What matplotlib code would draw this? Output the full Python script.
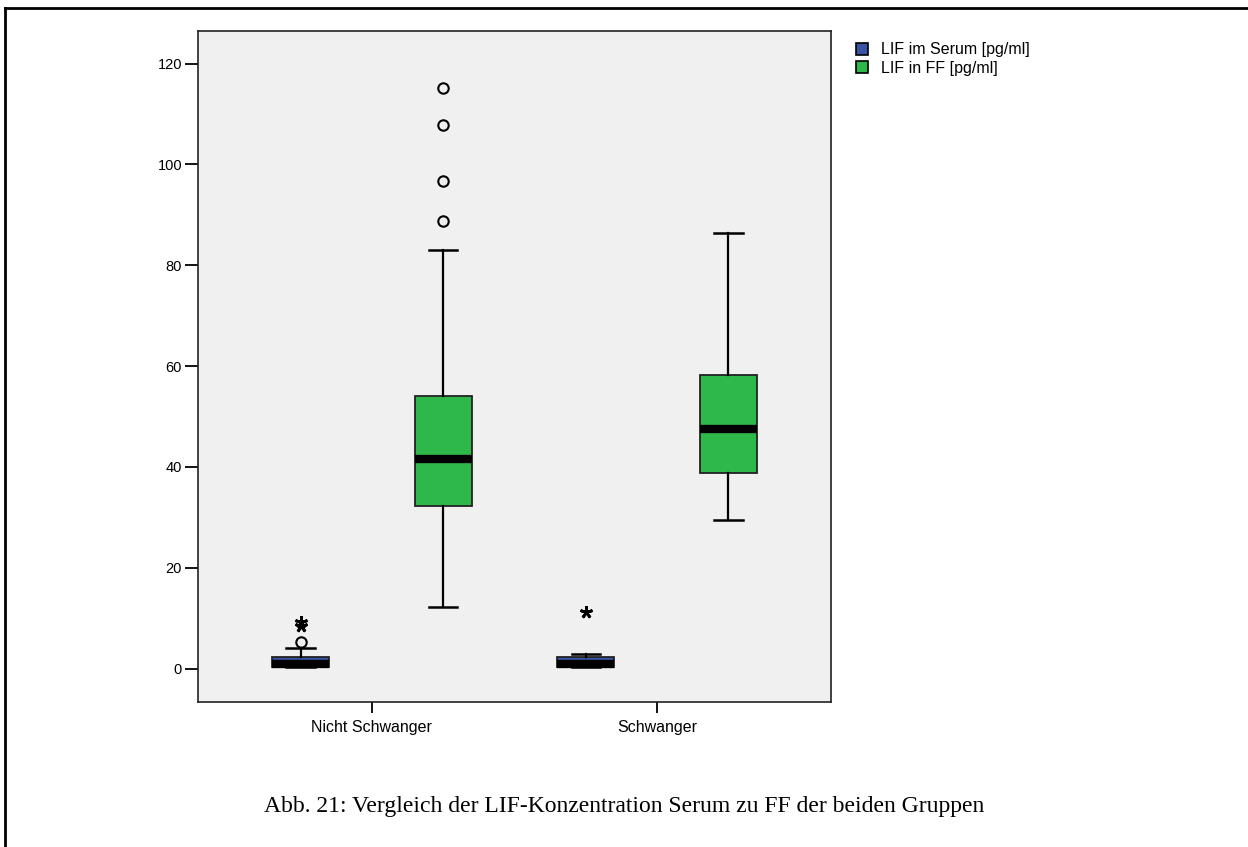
import matplotlib
matplotlib.use("Agg")
import matplotlib.pyplot as plt
from matplotlib.patches import Patch
from matplotlib.lines import Line2D

# Gruppen und Reihen
groups = ["Nicht Schwanger", "Schwanger"]
series = ["LIF im Serum [pg/ml]", "LIF in FF [pg/ml]"]
colors = ["#3953A4", "#2FB84A"]

# Boxplot-Kennwerte je Reihe (Reihenfolge wie groups)
serum_whislo = [0.4, 0.4]
serum_q1 = [0.4, 0.4]
serum_med = [0.8, 0.8]
serum_q3 = [2.3, 2.3]
serum_whishi = [4.0, 2.8]
serum_outliers = [[5.2], []]
serum_extremes = [[9.3, 8.4], [11.3]]

ff_whislo = [12.3, 29.5]
ff_q1 = [32.3, 38.7]
ff_med = [41.6, 47.5]
ff_q3 = [54.0, 58.2]
ff_whishi = [83.0, 86.4]
ff_outliers = [[88.8, 96.6, 107.8, 115.1], []]
ff_extremes = [[], []]

caption = "Abb. 21: Vergleich der LIF-Konzentration Serum zu FF der beiden Gruppen"

plt.rcParams['font.family'] = ['Liberation Sans', 'DejaVu Sans']

fig = plt.figure(figsize=(12.48, 8.47), dpi=100)
ax = fig.add_axes([198 / 1248, 1 - 702 / 847, (831 - 198) / 1248, (702 - 31) / 847])
ax.set_facecolor("#F0F0F0")

offset = 0.25
width = 0.2
all_series = [
    (serum_whislo, serum_q1, serum_med, serum_q3, serum_whishi, serum_outliers, serum_extremes),
    (ff_whislo, ff_q1, ff_med, ff_q3, ff_whishi, ff_outliers, ff_extremes),
]
for s, (wlo, q1, med, q3, whi, outl, ext) in enumerate(all_series):
    stats = []
    for g in range(len(groups)):
        stats.append(dict(whislo=wlo[g], q1=q1[g], med=med[g], q3=q3[g], whishi=whi[g], fliers=[]))
    pos = [g + 1 + (s - 0.5) * 2 * offset for g in range(len(groups))]
    ax.bxp(stats, positions=pos, widths=width, patch_artist=True, showfliers=False,
           boxprops=dict(facecolor=colors[s], edgecolor="#222222", linewidth=1.3),
           medianprops=dict(color="black", linewidth=6, solid_capstyle="butt", zorder=4),
           whiskerprops=dict(color="black", linewidth=1.6),
           capprops=dict(color="black", linewidth=1.8),
           capwidths=width / 2, manage_ticks=False)
    for g in range(len(groups)):
        if outl[g]:
            ax.plot([pos[g]] * len(outl[g]), outl[g], linestyle="none", marker="o",
                    markersize=7.5, markerfacecolor="none", markeredgecolor="black",
                    markeredgewidth=1.5)
        if ext[g]:
            ax.plot([pos[g]] * len(ext[g]), ext[g], linestyle="none", marker=(5, 2, 0),
                    markersize=9, markeredgewidth=2, color="black")

ax.set_xlim(0.39, 2.61)
ax.set_ylim(-6.64, 126.45)
ax.set_xticks([1, 2])
ax.set_xticklabels(groups)
ax.set_yticks([0, 20, 40, 60, 80, 100, 120])
ax.tick_params(axis="y", labelsize=10.5, length=9.5, width=1.3, direction="out", pad=2)
ax.tick_params(axis="x", labelsize=11.5, length=8, width=1.3, direction="out", pad=5)
for sp in ax.spines.values():
    sp.set_linewidth(1.2)
    sp.set_color("#222222")

handles = [Patch(facecolor=c, edgecolor="black", linewidth=1.2) for c in colors]
fig.legend(handles, series, loc="upper left", bbox_to_anchor=(842 / 1248, 1 - 28 / 847),
           frameon=False, fontsize=11.5, handlelength=0.75, handleheight=0.75,
           handletextpad=0.8, labelspacing=0.2)

fig.text(624 / 1248, 1 - 806 / 847, caption, ha="center", va="center",
         fontsize=17, family=["Liberation Serif", "DejaVu Serif"])

# Rahmen der Abbildung (links und oben)
fig.add_artist(Line2D([5 / 1248, 5 / 1248], [0, 1 - 8 / 847], transform=fig.transFigure,
                      color="black", linewidth=2))
fig.add_artist(Line2D([5 / 1248, 1], [1 - 8 / 847, 1 - 8 / 847], transform=fig.transFigure,
                      color="black", linewidth=2))

fig.savefig("out.png", dpi=100)
